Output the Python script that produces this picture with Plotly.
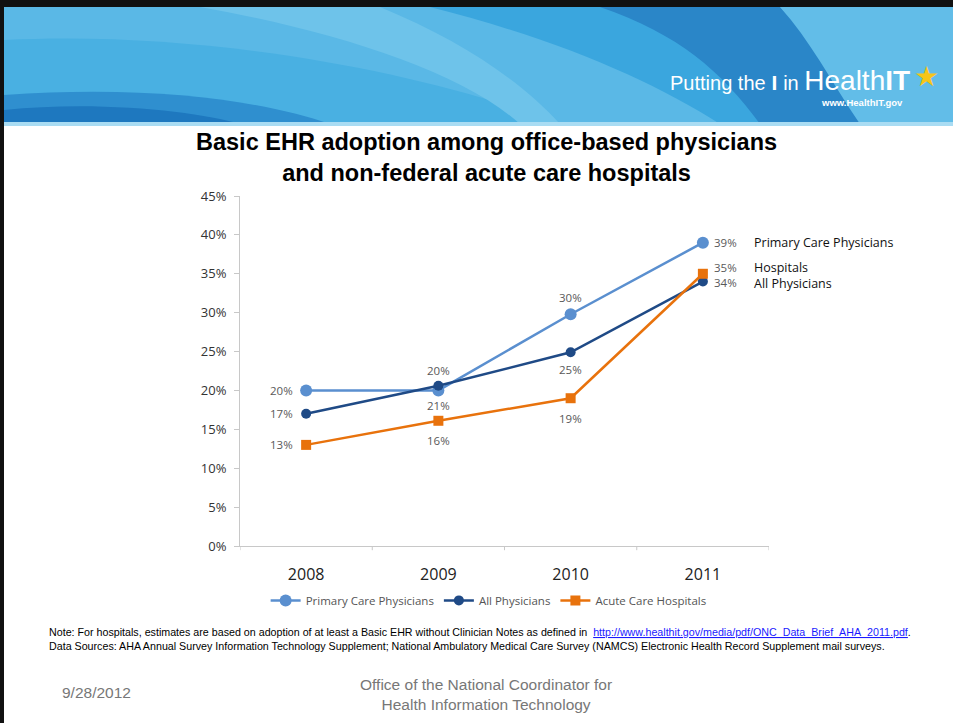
import plotly.graph_objects as go

years = ["2008", "2009", "2010", "2011"]
pcp = [20, 20, 29.8, 39]
allphys = [17, 20.6, 24.9, 34]
hosp = [13, 16.1, 19, 35]
pcp_labels = ["20%", "21%", "30%", "39%"]
all_labels = ["17%", "20%", "25%", "34%"]
hosp_labels = ["13%", "16%", "19%", "35%"]
y_ticks = [0, 5, 10, 15, 20, 25, 30, 35, 40, 45]
y_tick_text = [f"{v}%" for v in y_ticks]

# label pixel offsets (style only)
pcp_off = [(-25, 0), (0, -15), (0, 17), (23, 0)]
all_off = [(-25, 0), (0, 15), (0, -17), (23, -1)]
hosp_off = [(-25, 0), (0, -20), (0, -20), (23, 6)]

C_PCP = "#5a8fcf"
C_ALL = "#1f4a86"
C_HOSP = "#e8720c"
LABEL_FONT = dict(family="Open Sans, Liberation Sans, sans-serif", size=11.5, color="#595959")

fig = go.Figure()
fig.add_trace(go.Scatter(
    x=years, y=pcp, name="Primary Care Physicians", mode="lines+markers",
    line=dict(color=C_PCP, width=2.5), marker=dict(symbol="circle", size=12, color=C_PCP), cliponaxis=False))
fig.add_trace(go.Scatter(
    x=years, y=allphys, name="All Physicians", mode="lines+markers",
    line=dict(color=C_ALL, width=2.5), marker=dict(symbol="circle", size=10, color=C_ALL), cliponaxis=False))
fig.add_trace(go.Scatter(
    x=years, y=hosp, name="Acute Care Hospitals", mode="lines+markers",
    line=dict(color=C_HOSP, width=2.5), marker=dict(symbol="square", size=10, color=C_HOSP), cliponaxis=False))

annotations = []
for vals, labs, offs in [(pcp, pcp_labels, pcp_off), (allphys, all_labels, all_off), (hosp, hosp_labels, hosp_off)]:
    for idx, (yv, lab, (dx, dy)) in enumerate(zip(vals, labs, offs)):
        annotations.append(dict(x=idx, y=yv, xref="x", yref="y", text=lab, showarrow=False,
                                xshift=dx, yshift=dy, font=LABEL_FONT))

fig_w, fig_h = 953, 723
ml, mr, mt, mb = 240, 184, 196, 177
pw, ph = fig_w - ml - mr, fig_h - mt - mb

banner_paths = [
    ("#3aa6de", "M 4 7 L 953 7 L 953 124 L 4 124 Z"),
    ("#5ab8e6", "M 4 7 L 430 7 C 560 40 650 80 720 124 L 4 124 Z"),
    ("#49b0e2", "M 4 40 C 200 30 420 70 560 124 L 4 124 Z"),
    ("#2f8fcf", "M 4 95 C 150 85 260 100 330 124 L 4 124 Z"),
    ("#2a86c8", "M 600 7 L 780 7 C 830 60 860 100 880 124 L 760 124 C 720 70 680 35 600 7 Z"),
    ("#6ec3ea", "M 200 7 L 380 7 C 460 40 520 80 560 124 L 520 124 C 460 70 330 30 200 7 Z"),
    ("#1e78bf", "M 4 110 C 100 100 200 112 240 124 L 4 124 Z"),
    ("#62bde8", "M 780 7 L 953 7 L 953 124 L 860 124 C 830 80 810 40 780 7 Z"),
]

def to_paper_path(path):
    toks = path.split()
    out = []
    i = 0
    while i < len(toks):
        t = toks[i]
        if t.isalpha():
            out.append(t)
            i += 1
        else:
            x = float(toks[i]); y = float(toks[i + 1])
            px = (x - ml) / pw
            py = (fig_h - mb - y) / ph
            out.append(f"{px:.5f},{py:.5f}")
            i += 2
    return " ".join(out)

shapes = []
for col, path in banner_paths:
    shapes.append(dict(type="path", xref="paper", yref="paper", path=to_paper_path(path),
                       fillcolor=col, line=dict(width=0), layer="below"))

def rect_px(x0, y0, x1, y1, color):
    return dict(type="rect", xref="paper", yref="paper",
                x0=(x0 - ml) / pw, x1=(x1 - ml) / pw,
                y0=(fig_h - mb - y1) / ph, y1=(fig_h - mb - y0) / ph,
                fillcolor=color, line=dict(width=0), layer="below")

shapes.append(rect_px(4, 122, 953, 126, "#a9dcf3"))
shapes.append(rect_px(0, 0, 953, 7, "#111111"))
shapes.append(rect_px(0, 0, 4, 723, "#111111"))

def ann_px(x, y, text, size, color="#000000", family="Liberation Sans, Arial, sans-serif",
           xanchor="left", yanchor="middle", align="left"):
    annotations.append(dict(xref="paper", yref="paper", x=(x - ml) / pw, y=(fig_h - mb - y) / ph,
                            text=text, showarrow=False, xanchor=xanchor, yanchor=yanchor,
                            align=align, font=dict(size=size, color=color, family=family)))

# Logo
ann_px(912, 80, "<span style='font-size:20px'>Putting the</span><b><span style='font-size:21px'> I </span></b>"
       "<span style='font-size:20px'>in </span><span style='font-size:28px'>Health</span>"
       "<b><span style='font-size:28px'>IT</span></b>", 20, "#ffffff",
       family="Liberation Sans Narrow, Liberation Sans, sans-serif", xanchor="right")
ann_px(905, 103, "<b>www.HealthIT.gov</b>", 9.5, "#ffffff", xanchor="right")
ann_px(926, 76, "★", 28, "#f5c518", family="DejaVu Sans, sans-serif", xanchor="center")

# Title
ann_px(486, 157, "<b>Basic EHR adoption among office-based physicians<br>and non-federal acute care hospitals</b>",
       23.5, "#000000", xanchor="center", align="center")

# Series names at right
SER_FONT = "Open Sans, Liberation Sans, sans-serif"
ann_px(752, 242, "Primary Care Physicians", 12.5, "#111111", family=SER_FONT)
ann_px(752, 267, "Hospitals", 12.5, "#111111", family=SER_FONT)
ann_px(752, 283, "All Physicians", 12.5, "#111111", family=SER_FONT)

# Notes
ann_px(47, 639, "Note: For hospitals, estimates are based on adoption of at least a Basic EHR without Clinician Notes as defined in  "
       "<span style='color:#1a1aff'><u>http://www.healthit.gov/media/pdf/ONC_Data_Brief_AHA_2011.pdf</u></span>."
       "<br>Data Sources: AHA Annual Survey Information Technology Supplement; National Ambulatory Medical Care Survey (NAMCS) Electronic Health Record Supplement mail surveys.",
       10.7, "#000000", family="Liberation Sans Narrow, Liberation Sans, sans-serif")

# Footer
ann_px(60, 692, "9/28/2012", 15.5, "#777777")
ann_px(486, 694, "Office of the National Coordinator for<br>Health Information Technology", 15.5, "#777777",
       xanchor="center", align="center")

fig.update_layout(
    width=953, height=723, autosize=False,
    margin=dict(l=ml, r=mr, t=mt, b=mb),
    paper_bgcolor="#ffffff", plot_bgcolor="#ffffff",
    showlegend=True,
    legend=dict(orientation="h", x=0.47, xanchor="center", y=-0.114, yanchor="top",
                font=dict(family="Open Sans, Liberation Sans, sans-serif", size=11.5, color="#555555"),
                itemwidth=30, bgcolor="rgba(0,0,0,0)"),
    xaxis=dict(type="category", range=[-0.5, 3.5], showgrid=False, showline=True, linecolor="#c8c8c8",
               ticks="", ticklabelstandoff=14,
               tickfont=dict(family="Open Sans, Liberation Sans, sans-serif", size=16, color="#222222"),
               zeroline=False),
    yaxis=dict(range=[0, 45], tickvals=y_ticks, ticktext=y_tick_text, showgrid=False, showline=True,
               linecolor="#c8c8c8", ticks="outside", ticklen=5, tickcolor="#c8c8c8",
               ticklabelstandoff=5,
               tickfont=dict(family="Open Sans, Liberation Sans, sans-serif", size=13, color="#333333"),
               zeroline=False),
    shapes=shapes, annotations=annotations,
)
for i in range(5):
    xi = -0.5 + i
    fig.add_shape(type="line", xref="x", yref="paper", x0=xi, x1=xi, y0=0, y1=-0.012,
                  line=dict(color="#c8c8c8", width=1))

fig.write_html("out.html", config={"displayModeBar": False},
               post_script="document.body.style.margin='0';document.body.style.overflow='hidden';")
